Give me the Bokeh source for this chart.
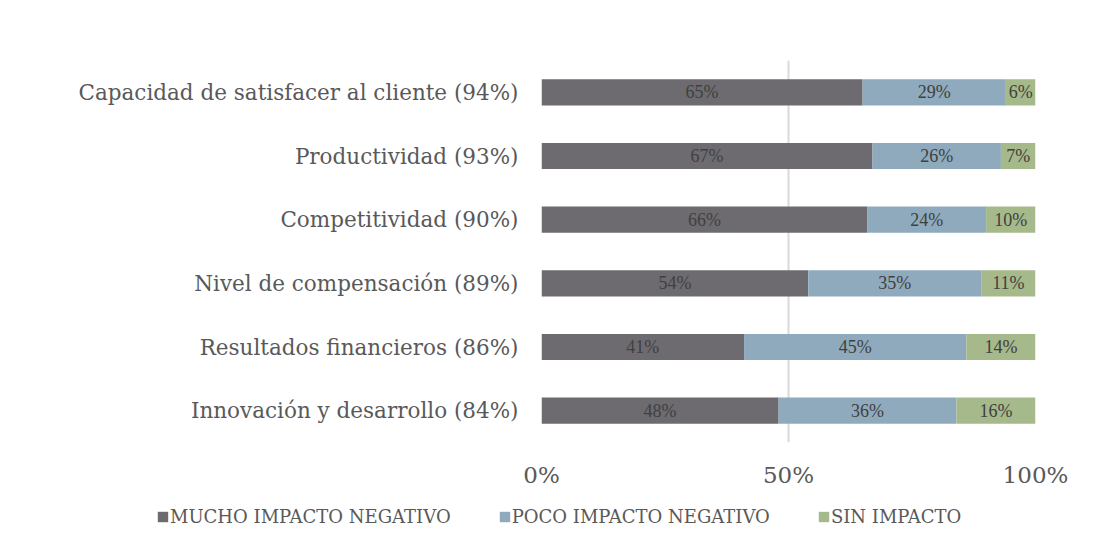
from bokeh.plotting import figure
from bokeh.layouts import column
from bokeh.models import ColumnDataSource, FactorRange, Range1d, FixedTicker, LabelSet, Legend, LegendItem
from bokeh.embed import file_html
from bokeh.resources import INLINE

categories = [
    "Capacidad de satisfacer al cliente (94%)",
    "Productividad (93%)",
    "Competitividad (90%)",
    "Nivel de compensación (89%)",
    "Resultados financieros (86%)",
    "Innovación y desarrollo (84%)",
]
mucho = [65, 67, 66, 54, 41, 48]
poco = [29, 26, 24, 35, 45, 36]
sin = [6, 7, 10, 11, 14, 16]
series_names = ["MUCHO IMPACTO NEGATIVO", "POCO IMPACTO NEGATIVO", "SIN IMPACTO"]
colors = ["#6d6b70", "#8faabc", "#a6b98a"]
tick_values = [0, 50, 100]
tick_labels = ["0%", "50%", "100%"]

FONT = "DejaVu Serif"
W = 1080
H_MAIN, H_LEG = 500, 31

src = ColumnDataSource(dict(cat=categories, mucho=mucho, poco=poco, sin=sin))

p = figure(width=W, height=H_MAIN, output_backend="svg", toolbar_location=None,
           y_range=FactorRange(factors=list(reversed(categories)), range_padding=0),
           x_range=Range1d(0, 100),
           min_border_left=541, min_border_right=45, min_border_top=60, min_border_bottom=58)
p.outline_line_color = None
p.background_fill_color = "white"
p.frame_align = False

renderers = p.hbar_stack(["mucho", "poco", "sin"], y="cat", height=0.41, color=colors,
                         line_color=None, source=src)

lab_x, lab_y, lab_t = [], [], []
for i, c in enumerate(categories):
    vals = [mucho[i], poco[i], sin[i]]
    start = 0
    for v in vals:
        lab_x.append(start + v / 2)
        lab_y.append(c)
        lab_t.append(f"{v}%")
        start += v
lsrc = ColumnDataSource(dict(x=lab_x, y=lab_y, t=lab_t))
labels = LabelSet(x="x", y="y", text="t", source=lsrc, text_align="center", text_baseline="middle",
                  text_font=FONT, text_font_size="18px", text_color="#404040")
p.add_layout(labels)

p.ygrid.grid_line_color = None
p.xgrid.ticker = FixedTicker(ticks=tick_values)
p.xgrid.grid_line_color = "#d9d9d9"
p.xgrid.grid_line_width = 2

p.xaxis.ticker = FixedTicker(ticks=tick_values)
p.xaxis.major_label_overrides = {v: l for v, l in zip(tick_values, tick_labels)}
p.xaxis.axis_line_color = None
p.xaxis.major_tick_line_color = None
p.xaxis.minor_tick_line_color = None
p.xaxis.major_label_text_font = FONT
p.xaxis.major_label_text_font_size = "23px"
p.xaxis.major_label_text_color = "#595959"
p.xaxis.major_label_standoff = 13

p.yaxis.axis_line_color = None
p.yaxis.major_tick_line_color = None
p.yaxis.minor_tick_line_color = None
p.yaxis.major_label_text_font = FONT
p.yaxis.major_label_text_font_size = "21.5px"
p.yaxis.major_label_text_color = "#595959"
p.yaxis.major_label_standoff = 17

# legend in a separate strip below the chart
lf = figure(width=W, height=H_LEG, output_backend="svg", toolbar_location=None,
            x_range=Range1d(0, 1), y_range=Range1d(0, 1),
            x_axis_location=None, y_axis_location=None,
            min_border_left=0, min_border_right=0, min_border_top=0, min_border_bottom=0)
lf.outline_line_color = None
lf.grid.grid_line_color = None
lf.frame_align = False
# legend proxies drawn outside the visible range (only their legend swatches show)
proxies = [lf.quad(left=[5], right=[6], bottom=[5], top=[6], fill_color=c, line_color=None)
           for c in colors]
legend = Legend(items=[LegendItem(label=n, renderers=[r]) for n, r in zip(series_names, proxies)],
                orientation="horizontal", location=(156, 4),
                glyph_width=13, glyph_height=13, label_text_font=FONT, label_text_font_size="18px",
                label_text_color="#595959", spacing=47, label_standoff=1, padding=0, margin=0,
                border_line_color=None, background_fill_alpha=0)
lf.add_layout(legend, "center")

layout = column(p, lf, spacing=0)
open("out.html", "w").write(file_html(layout, INLINE))
